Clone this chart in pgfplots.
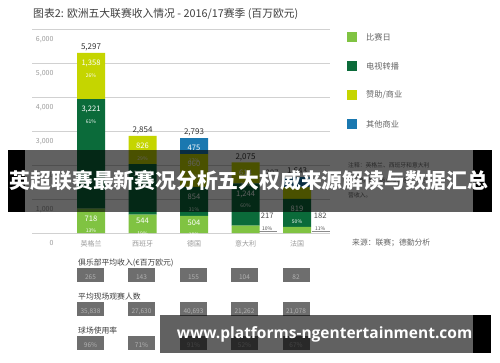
\documentclass[border=0pt]{standalone}
\usepackage{fontspec}
\setmainfont{Noto Sans CJK SC}
\newfontfamily\wmfont{Open Sans}
\usepackage{pgfplots}
\pgfplotsset{compat=1.18}
\definecolor{cMatch}{HTML}{80C342}
\definecolor{cTV}{HTML}{0B6B3A}
\definecolor{cSpon}{HTML}{C5D500}
\definecolor{cOther}{HTML}{1A78B0}
\definecolor{txtgrey}{HTML}{9A9A9A}
\definecolor{boxgrey}{HTML}{6E6E6E}
\newcommand{\fs}[1]{\fontsize{#1}{#1}\selectfont}
% pixel mapping of the axis: x = 32 + (i+1.146)*51.503 ; y = 129 + v*0.034
\newcommand{\seg}[5][-7pt]{\node[anchor=north, text=white, align=center, inner sep=0pt, yshift=#1] at ({32+(#2+1.146)*51.503},{129+#3*0.034}) {\fs{7.6}#4\\[-0.5pt]\fs{5}#5};}
\begin{document}
\begin{tikzpicture}[x=1pt,y=1pt]
\path[use as bounding box] (0,0) rectangle (500,362);
\fill[white] (0,0) rectangle (500,362);
\begin{axis}[
  at={(32pt,129pt)}, anchor=south west,
  scale only axis, width=298pt, height=204pt,
  xmin=-1.146, xmax=4.64, ymin=0, ymax=6000,
  ybar stacked, bar width=28pt,
  axis line style={draw=none},
  tick style={draw=none},
  ymajorgrids, grid style={black!18, line width=0.6pt},
  xtick={0,1,2,3,4},
  xticklabels={英格兰,西班牙,德国,意大利,法国},
  ytick={0,1000,2000,3000,4000,5000,6000},
  /pgf/number format/assume math mode=true,
  yticklabel style={anchor=north east, xshift=25pt, yshift=-4pt, font=\fs{7}, text=txtgrey},
  xticklabel style={font=\fs{7}, text=txtgrey, yshift=-4pt},
  clip=false,
]
\addplot[fill=cMatch, draw=none] coordinates {(0,718) (1,544) (2,504) (3,217) (4,182)};
\addplot[fill=cTV, draw=none] coordinates {(0,3221) (1,1484) (2,854) (3,1244) (4,819)};
\addplot[fill=cSpon, draw=none] coordinates {(0,1358) (1,826) (2,960) (3,614) (4,345)};
\addplot[fill=cOther, draw=none] coordinates {(0,0) (1,0) (2,475) (3,0) (4,297)};
\node[text=black!70, align=center, inner sep=0pt] at (axis cs:3.42,330) {\fs{7.6}217\\[-0.5pt]\fs{5}10\%};
\draw[black!45, line width=0.5pt] (axis cs:3.27,60) -- (axis cs:3.62,60);
\node[text=black!70, align=center, inner sep=0pt] at (axis cs:4.45,330) {\fs{7.6}182\\[-0.5pt]\fs{5}11\%};
\draw[black!45, line width=0.5pt] (axis cs:4.30,60) -- (axis cs:4.64,60);
\node[anchor=south, inner sep=1.5pt, text=black!70, font=\fs{7.6}] at (axis cs:3.52,1643) {297};
\node[anchor=south, inner sep=1.5pt, text=black!80, font=\fs{8}] at (axis cs:0,5297) {5,297};
\node[anchor=south, inner sep=1.5pt, text=black!80, font=\fs{8}] at (axis cs:1,2854) {2,854};
\node[anchor=south, inner sep=1.5pt, text=black!80, font=\fs{8}] at (axis cs:2,2793) {2,793};
\node[anchor=south, inner sep=1.5pt, text=black!80, font=\fs{8}] at (axis cs:3,2075) {2,075};
\node[anchor=south, inner sep=1.5pt, text=black!80, font=\fs{8}] at (axis cs:4,1643) {1,643};
\end{axis}
% segment labels (drawn above the bars)
\seg{0}{5297}{1,358}{26\%}
\seg{0}{3939}{3,221}{61\%}
\seg{0}{718}{718}{13\%}
\seg{1}{2854}{826}{29\%}
\seg{1}{2028}{1,484}{52\%}
\seg[-3.5pt]{1}{544}{544}{19\%}
\seg{2}{2793}{475}{17\%}
\seg{2}{2318}{960}{34\%}
\seg{2}{1358}{854}{31\%}
\seg[-3.5pt]{2}{504}{504}{18\%}
\seg{3}{2075}{614}{30\%}
\seg{3}{1461}{1,244}{60\%}
\seg{4}{1001}{819}{50\%}
% title
\node[anchor=west, inner sep=0pt, text=black!75, font=\fs{10.8}] at (33,348) {图表2: 欧洲五大联赛收入情况 - 2016/17赛季 (百万欧元)};
% legend
\fill[cMatch] (347,319.5) rectangle (357,329.5);
\node[anchor=west, inner sep=0pt, text=black!60, font=\fs{8.2}] at (366,324.5) {比赛日};
\fill[cTV] (347,291) rectangle (357,301);
\node[anchor=west, inner sep=0pt, text=black!60, font=\fs{8.2}] at (366,296) {电视转播};
\fill[cSpon] (347,262) rectangle (357,272);
\node[anchor=west, inner sep=0pt, text=black!60, font=\fs{8.2}] at (366,267) {赞助/商业};
\fill[cOther] (347,233) rectangle (357,243);
\node[anchor=west, inner sep=0pt, text=black!60, font=\fs{8.2}] at (366,238) {其他商业};
% note and source
\node[anchor=north west, inner sep=0pt, align=left, text=black!60, font=\fontsize{5.8}{15}\selectfont] at (348,200) {注释：英格兰、西班牙和意大利\\联赛的赞助/商业收入包含其他商业\\营收入。};
\node[anchor=west, inner sep=0pt, text=black!60, font=\fs{7.8}] at (352,119) {来源：联赛；德勤分析};
% table
\node[anchor=west, inner sep=0pt, text=black!75, font=\fs{7.8}] at (78,99) {俱乐部平均收入(€百万欧元)};
\node[anchor=west, inner sep=0pt, text=black!75, font=\fs{7.8}] at (78,65) {平均现场观赛人数};
\node[anchor=west, inner sep=0pt, text=black!75, font=\fs{7.8}] at (78,31) {球场使用率};
\foreach \cx/\a/\b/\c in {90.5/265/{35,838}/96\%, 141.5/143/{27,630}/71\%, 193.5/155/{40,693}/91\%, 244.5/104/{21,262}/52\%, 296/82/{21,078}/67\%}{
  \fill[boxgrey] (\cx-13.5,80) rectangle (\cx+13.5,94);
  \node[text=black!30, inner sep=0pt, font=\fs{6.5}] at (\cx,84.5) {\a};
  \fill[boxgrey] (\cx-13.5,46) rectangle (\cx+13.5,60);
  \node[text=black!30, inner sep=0pt, font=\fs{6.5}] at (\cx,50.5) {\b};
  \fill[boxgrey] (\cx-13.5,12) rectangle (\cx+13.5,26);
  \node[text=black!30, inner sep=0pt, font=\fs{6.5}] at (\cx,16.5) {\c};
}
% overlay band
\fill[black] (8,150) rectangle (25,212);
\fill[black] (473,150) rectangle (492,212);
\fill[black, opacity=0.62] (25,150) rectangle (473,212);
\node[text=white, inner sep=0pt, font=\fs{20.8}\bfseries] at (249,181) {英超联赛最新赛况分析五大权威来源解读与数据汇总};
% watermark
\fill[black, opacity=0.62] (160,9) rectangle (473,47);
\fill[black] (473,9) rectangle (491,47);
\node[text=white, inner sep=0pt, font=\wmfont\fs{15.5}\bfseries] at (324.5,28) {www.platforms-ngentertainment.com};
\end{tikzpicture}
\end{document}
